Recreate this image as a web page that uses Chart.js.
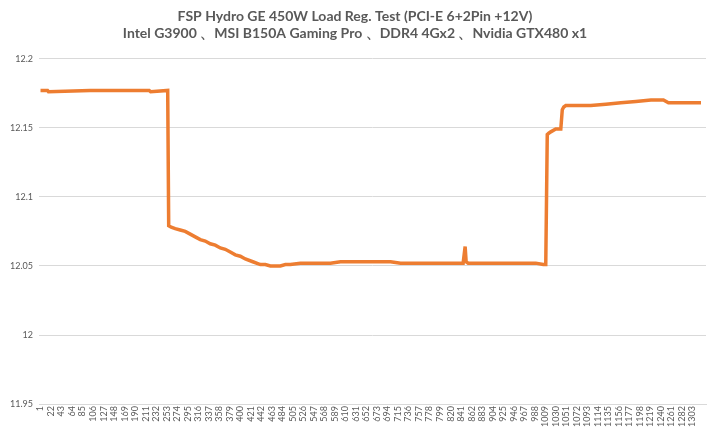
<!DOCTYPE html>
<html><head><meta charset="utf-8">
<script src="https://cdn.jsdelivr.net/npm/chart.js@4"></script>
<style>html,body{margin:0;padding:0;background:#fff}#w{width:720px;height:433px;position:relative}</style>
</head><body><div id="w"><canvas id="c"></canvas></div>
<script>
const titleLines = ["FSP Hydro GE 450W Load Reg. Test (PCI-E 6+2Pin +12V)", "Intel G3900 、MSI B150A Gaming Pro 、DDR4 4Gx2 、Nvidia GTX480 x1"];
const xValues = [1,15,17,100,200,218,221,255,257,262,270,280,290,300,310,320,330,340,350,360,370,380,390,400,410,425,440,450,460,470,480,490,500,520,540,560,580,600,620,640,660,680,700,720,740,760,780,800,820,845,849,851,855,880,900,930,960,990,1005,1010,1013,1016,1020,1030,1040,1043,1046,1050,1070,1100,1130,1160,1190,1220,1245,1255,1290,1320];
const yValues = [12.177,12.177,12.176,12.177,12.177,12.177,12.176,12.177,12.079,12.078,12.077,12.076,12.075,12.073,12.071,12.069,12.068,12.066,12.065,12.063,12.062,12.060,12.058,12.057,12.055,12.053,12.051,12.051,12.050,12.050,12.050,12.051,12.051,12.052,12.052,12.052,12.052,12.053,12.053,12.053,12.053,12.053,12.053,12.052,12.052,12.052,12.052,12.052,12.052,12.052,12.064,12.053,12.052,12.052,12.052,12.052,12.052,12.052,12.051,12.051,12.145,12.146,12.147,12.149,12.149,12.163,12.165,12.166,12.166,12.166,12.167,12.168,12.169,12.170,12.170,12.168,12.168,12.168];
const yTicks = [11.95,12,12.05,12.1,12.15,12.2];
const xTickStart = 1, xTickStep = 21, xTickEnd = 1303;
const pts = xValues.map((x,i)=>({x, y:yValues[i]}));
new Chart(document.getElementById('c'), {
  type:'line',
  data:{datasets:[{data:pts, borderColor:'#ED7D31', borderWidth:3.5, pointRadius:0, tension:0}]},
  options:{
    responsive:true, maintainAspectRatio:false, animation:false,
    layout:{padding:{left:4,right:14,top:6,bottom:4}},
    plugins:{legend:{display:false}, tooltip:{enabled:false},
      title:{display:true, text:titleLines, color:'#595959', font:{family:'Lato', size:14, weight:'bold'}, lineHeight:1.4, padding:{top:2,bottom:17}}},
    scales:{
      x:{type:'linear', min:-2, max:1330,
        afterBuildTicks:(s)=>{const t=[];for(let v=xTickStart;v<=xTickEnd;v+=xTickStep)t.push({value:v});s.ticks=t;},
        ticks:{autoSkip:false, maxRotation:90, minRotation:90, color:'#595959', font:{family:'Lato', size:9}, padding:2, callback:(v)=>String(v)},
        grid:{display:false, drawTicks:false}, border:{color:'#d9d9d9'}},
      y:{min:11.95, max:12.2,
        afterBuildTicks:(s)=>{s.ticks=yTicks.map(v=>({value:v}));},
        ticks:{color:'#595959', font:{family:'Lato', size:9}, padding:6, callback:(v)=>String(+v.toFixed(2))},
        grid:{color:'#d9d9d9', drawTicks:false}, border:{display:false}}
    }
  }
});
</script></body></html>
